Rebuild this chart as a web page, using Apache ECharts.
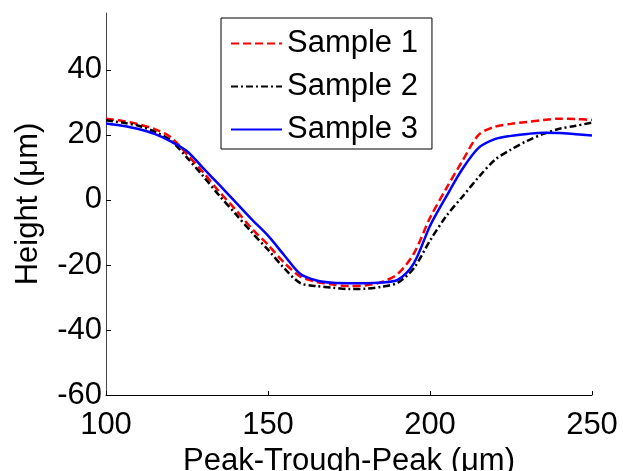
<!DOCTYPE html>
<html>
<head>
<meta charset="utf-8">
<script src="https://cdn.jsdelivr.net/npm/echarts@6/dist/echarts.min.js"></script>
<style>html,body{margin:0;padding:0;background:#fff;}#c{width:623px;height:471px;}</style>
</head>
<body>
<div id="c"></div>
<script>
const xValues = [100,105,110,115,120,125,130,135,140,145,150,155,160,165,170,175,180,185,190,195,200,205,210,215,220,225,230,235,240,245,250];
const sample1 = [25,24.3,23.3,21.8,19.3,14,8.5,2.5,-3,-8.8,-13.8,-19.3,-23.6,-25.2,-26,-26.5,-26.3,-25.3,-22.8,-16.5,-5.5,3.5,12,20,22.5,23.4,24,24.6,25,24.9,24.6];
const sample2 = [24.5,23.8,22.8,21,18.3,13,7.3,1.3,-4.3,-10,-15.3,-21,-25.6,-26.5,-27,-27.4,-27.3,-26.7,-25.5,-21,-12.5,-5,1,7,12.3,15.5,18.2,20.3,21.9,22.8,23.8];
const sample3 = [23.5,22.8,21.8,20.3,18,15,9.8,4.6,-0.7,-6,-11,-17,-22.8,-24.8,-25.5,-25.6,-25.6,-25.4,-24.6,-19.5,-8,1,9.5,16,18.7,19.7,20.3,20.7,20.6,20.2,19.8];
const yTicks = [-60,-40,-20,0,20,40];
const seriesNames = ['Sample 1','Sample 2','Sample 3'];

const font = "'Liberation Sans', Arial, sans-serif";
const toPairs = ys => xValues.map((x,i)=>[x, ys[i]]);

const chart = echarts.init(document.getElementById('c'), null, {renderer:'canvas'});
chart.setOption({
  animation:false,
  backgroundColor:'#fff',
  grid:{left:106, right:31, top:13, bottom:76, containLabel:false, outerBoundsMode:'none'},
  legend:{
    left:221, top:18, orient:'vertical',
    borderColor:'#000', borderWidth:1,
    padding:[10,14,4,9],
    itemWidth:51, itemHeight:14, itemGap:12,
    itemStyle:{opacity:0},
    textStyle:{fontFamily:font, fontSize:31, color:'#000', lineHeight:31},
    data:seriesNames
  },
  xAxis:{
    type:'value', min:100, max:250, interval:50,
    name:'Peak-Trough-Peak (μm)', nameLocation:'middle', nameGap:50,
    nameTextStyle:{fontFamily:font, fontSize:31, color:'#000'},
    axisLine:{show:true, onZero:false, lineStyle:{color:'#000', width:1}},
    axisTick:{show:true, inside:true, length:4, lineStyle:{color:'#000'}},
    axisLabel:{fontFamily:font, fontSize:31, color:'#000', margin:15},
    splitLine:{show:false}
  },
  yAxis:{
    type:'value', min:-60, max:57.5,
    name:'Height (μm)', nameLocation:'middle', nameGap:62, nameRotate:90,
    nameTextStyle:{fontFamily:font, fontSize:31, color:'#000'},
    axisLine:{show:true, onZero:false, lineStyle:{color:'#444', width:1}},
    axisTick:{show:true, inside:true, length:5, customValues:yTicks, lineStyle:{color:'#000'}},
    axisLabel:{fontFamily:font, fontSize:31, color:'#000', margin:4, customValues:yTicks},
    splitLine:{show:false}
  },
  series:[
    {name:seriesNames[0], type:'line', data:toPairs(sample1), symbol:'none', smooth:0.3,
     lineStyle:{color:'#ff0000', width:2.5, type:[8,4]}, itemStyle:{color:'#ff0000'}},
    {name:seriesNames[1], type:'line', data:toPairs(sample2), symbol:'none', smooth:0.3,
     lineStyle:{color:'#000000', width:2.5, type:[7,3,2,3]}, itemStyle:{color:'#000'}},
    {name:seriesNames[2], type:'line', data:toPairs(sample3), symbol:'none', smooth:0.3,
     lineStyle:{color:'#0000ff', width:2.5, type:'solid'}, itemStyle:{color:'#0000ff'}}
  ]
});
</script>
</body>
</html>
